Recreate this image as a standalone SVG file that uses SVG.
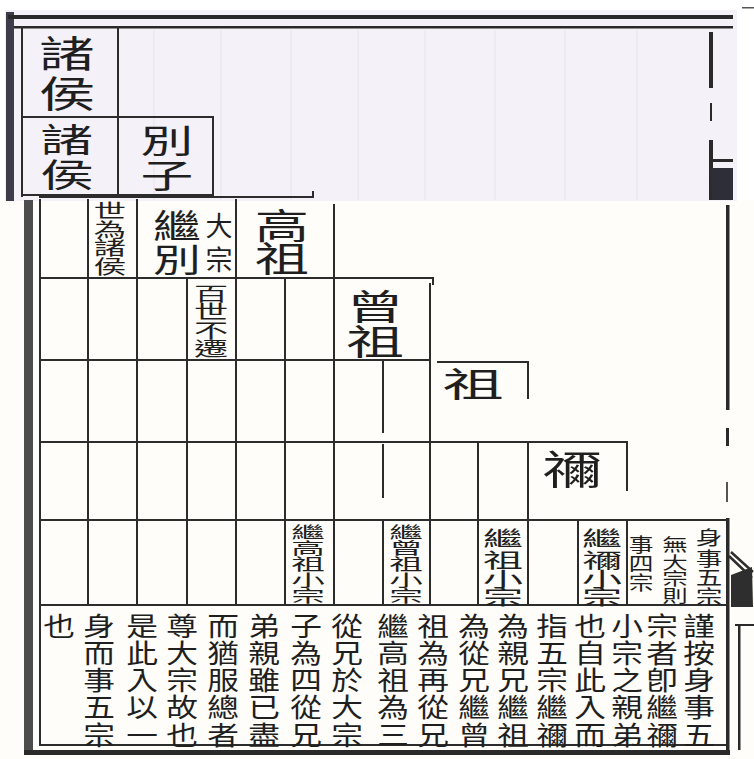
<svg xmlns="http://www.w3.org/2000/svg" width="754" height="759" viewBox="0 0 754 759">
<style>
text{font-family:"Noto Sans CJK TC","Noto Sans CJK SC","Noto Sans CJK JP",sans-serif;fill:#1f1f1f;text-anchor:middle;dominant-baseline:central}
.ln{stroke:#2c2c2c;stroke-width:2;fill:none;stroke-linecap:square}
.gh{stroke:#ebe5ef;stroke-width:1.3}
.dk{fill:#2a2a2a}
.body text{font-size:26px}
</style>
<rect width="754" height="759" fill="#ffffff"/>
<rect x="0" y="200" width="754" height="559" fill="#fefdf9"/>

<g id="upper-scan">
<rect x="5" y="10" width="732" height="191" fill="#f5f1f8"/>
<path class="gh" d="M154 30V200M221 30V200M291 30V200M358 30V200M425 30V200M495 30V200M565 30V200M637 30V200"/>
<rect x="6" y="12" width="8" height="189" fill="#3e3c4a"/>
<rect x="8" y="15" width="725" height="4" class="dk"/>
<rect x="14" y="26" width="719" height="2.5" class="dk"/>
<rect x="709" y="32" width="4" height="56" class="dk"/>
<rect x="710" y="103" width="2" height="18" class="dk"/>
<rect x="709" y="140" width="4" height="60" class="dk"/>
<path d="M710 168H733V200H712Z" fill="#2e2e38"/>
<rect x="712" y="159" width="21" height="3" class="dk"/>
<rect x="742" y="7" width="12" height="1.5" fill="#555"/>
<path class="ln" d="M22 28V196M118 28V195M22 117H213M213 117V195M22 195H213"/>
</g>

<g id="node-zhuhou-1" transform="translate(67,0) scale(1.5,1)"><text style="font-size:37px" x="0 0" y="52 92">諸侯</text></g>
<g id="node-zhuhou-2" transform="translate(67,0) scale(1.6,1)"><text style="font-size:33px" x="0 0" y="138 173">諸侯</text></g>
<g id="node-bieizi" transform="translate(167,0) scale(1.6,1)"><text style="font-size:33px" x="0 0" y="139 174">別子</text></g>

<g id="frame">
<rect x="24" y="200" width="9" height="554" fill="#4d4d4d"/>
<rect x="24" y="750" width="706" height="5" class="dk"/>
<rect x="726" y="205" width="3.5" height="205" class="dk"/>
<rect x="726" y="428" width="3" height="18" class="dk"/>
<rect x="726" y="482" width="2" height="20" fill="#555"/>
<rect x="726" y="518" width="3.5" height="232" class="dk"/>
<rect x="738" y="625" width="2.5" height="125" class="dk"/>
<rect x="735" y="624" width="19" height="2" class="dk"/>
<path d="M731 575L752 567L753 607L731 607Z" fill="#2e2e2e"/>
<path d="M729 556L752 578M731 552L753 572" stroke="#2e2e2e" stroke-width="2.5" fill="none"/>
</g>

<g id="connectors">
<path class="ln" d="M40 197H313V192M40 278H433V284M40 360H430M438 362H528V398M40 442H627V490M40 520H728M40 605H728M40 745H728"/>
<path class="ln" d="M40 200V745M88 200V605M137 200V605M187 278V605M236 200V605M285 278V605M334 205V605M383 360V432M383 445V497M383 522V605M430 284V605M478 442V605M528 442V605M578 520V605M627 520V605"/>
</g>

<g id="node-shiwei-zhuhou" transform="translate(110,0) scale(1.7,1)"><text style="font-size:19px" x="0 0 0 0" y="210 229 247 266">世為諸侯</text></g>
<g id="node-jibie" transform="translate(177,0) scale(1.45,1)"><text style="font-size:33px" x="0 0" y="224 258">繼別</text></g>
<g id="node-dazong"><text style="font-size:27px" x="219 219" y="224 258">大宗</text></g>
<g id="node-gaozu" transform="translate(282,0) scale(1.55,1)"><text style="font-size:35px" x="0 0" y="224 257">高祖</text></g>
<g id="node-baishi" transform="translate(211,0) scale(1.8,1)"><text style="font-size:19px" x="0 0 0 0" y="293 311 330 348">百世不遷</text></g>
<g id="node-zengzu" transform="translate(375,0) scale(1.65,1)"><text style="font-size:35px" x="0 0" y="305 340">曾祖</text></g>
<g id="node-zu" transform="translate(473,0) scale(1.8,1)"><text style="font-size:34px" x="0" y="382">祖</text></g>
<g id="node-ni" transform="translate(572,0) scale(1.5,1)"><text style="font-size:40px" x="0" y="467">禰</text></g>

<g id="node-ji-gaozu" transform="translate(308,0) scale(2.1,1)"><text style="font-size:16px" x="0 0 0 0 0" y="531 547 563 579 595">繼高祖小宗</text></g>
<g id="node-ji-zengzu" transform="translate(406,0) scale(2.1,1)"><text style="font-size:16px" x="0 0 0 0 0" y="531 547 563 579 595">繼曾祖小宗</text></g>
<g id="node-ji-zu" transform="translate(503,0) scale(2.0,1)"><text style="font-size:20px" x="0 0 0 0" y="537 559 578 596">繼祖小宗</text></g>
<g id="node-ji-ni" transform="translate(602,0) scale(2.0,1)"><text style="font-size:20px" x="0 0 0 0" y="537 559 578 596">繼禰小宗</text></g>
<g id="node-note">
<g transform="translate(709,0) scale(1.4,1)"><text style="font-size:19px" x="0 0 0 0" y="537 558 577 596">身事五宗</text></g>
<g transform="translate(675,0) scale(1.5,1)"><text style="font-size:17px" x="0 0 0 0" y="544 562 578 595">無大宗則</text></g>
<g transform="translate(641,0) scale(1.3,1)"><text style="font-size:19px" x="0 0 0" y="543 562 581">事四宗</text></g>
</g>

<g id="node-text" class="body">
<text transform="translate(699,0) scale(1.22,1)" x="0 0 0 0 0" y="624 651 678 705 733">謹按身事五</text>
<text transform="translate(662,0) scale(1.22,1)" x="0 0 0 0 0" y="624 651 678 705 733">宗者卽繼禰</text>
<text transform="translate(627,0) scale(1.22,1)" x="0 0 0 0 0" y="624 651 678 705 733">小宗之親弟</text>
<text transform="translate(590,0) scale(1.22,1)" x="0 0 0 0 0" y="624 651 678 705 733">也自此入而</text>
<text transform="translate(552,0) scale(1.22,1)" x="0 0 0 0 0" y="624 651 678 705 733">指五宗繼禰</text>
<text transform="translate(513,0) scale(1.22,1)" x="0 0 0 0 0" y="624 651 678 705 733">為親兄繼祖</text>
<text transform="translate(474,0) scale(1.22,1)" x="0 0 0 0 0" y="624 651 678 705 733">為從兄繼曾</text>
<text transform="translate(433,0) scale(1.22,1)" x="0 0 0 0 0" y="624 651 678 705 733">祖為再從兄</text>
<text transform="translate(393,0) scale(1.22,1)" x="0 0 0 0 0" y="624 651 678 705 733">繼高祖為三</text>
<text transform="translate(347,0) scale(1.22,1)" x="0 0 0 0 0" y="624 651 678 705 733">從兄於大宗</text>
<text transform="translate(306,0) scale(1.22,1)" x="0 0 0 0 0" y="624 651 678 705 733">子為四從兄</text>
<text transform="translate(264,0) scale(1.22,1)" x="0 0 0 0 0" y="624 651 678 705 733">弟親雖已盡</text>
<text transform="translate(223,0) scale(1.22,1)" x="0 0 0 0 0" y="624 651 678 705 733">而猶服總者</text>
<text transform="translate(182,0) scale(1.22,1)" x="0 0 0 0 0" y="624 651 678 705 733">尊大宗故也</text>
<text transform="translate(142,0) scale(1.22,1)" x="0 0 0 0 0" y="624 651 678 705 733">是此入以一</text>
<text transform="translate(99,0) scale(1.22,1)" x="0 0 0 0 0" y="624 651 678 705 733">身而事五宗</text>
<text transform="translate(59,0) scale(1.22,1)" x="0" y="624">也</text>
</g>
</svg>
